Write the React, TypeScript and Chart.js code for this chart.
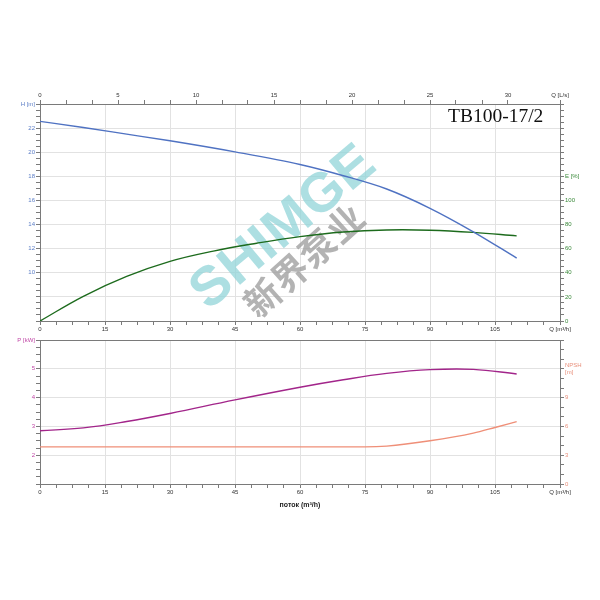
import React, { useEffect, useRef } from 'react';
import { Chart, registerables } from 'chart.js';
Chart.register(...registerables);

// ---- data (Q in m³/h) ----
const flowH = [0, 10, 20, 30, 45, 60, 70, 80, 90, 100, 110];
const headH = [22.56, 22.05, 21.5, 20.95, 20.03, 18.98, 18.05, 16.95, 15.35, 13.4, 11.22];
const flowE = [0, 10, 20, 30, 40, 50, 60, 70, 80, 90, 100, 110];
const effE = [0, 20.5, 37, 49.5, 58, 64.5, 70, 73.8, 75.5, 75.3, 73.5, 70.6];
const flowP = [0, 10, 20, 30, 45, 60, 70, 80, 90, 100, 110];
const powerP = [2.85, 2.95, 3.17, 3.45, 3.92, 4.36, 4.62, 4.84, 4.97, 4.98, 4.82];
const flowN = [0, 15, 30, 45, 60, 75, 80, 90, 100, 105, 110];
const npshN = [3.87, 3.87, 3.87, 3.87, 3.87, 3.87, 3.95, 4.5, 5.3, 5.89, 6.5];

// ---- tick labels ----
const qM3hLabels = [0, 15, 30, 45, 60, 75, 90, 105];
const qLsLabels = [0, 5, 10, 15, 20, 25, 30];
const hLabels = [10, 12, 14, 16, 18, 20, 22];
const eLabels = [0, 20, 40, 60, 80, 100];
const pLabels = [2, 3, 4, 5];
const npshLabels = [0, 3, 6, 9];

const Q_MAX = 120;
const QLS_MAX = Q_MAX / 3.6;
const FONT = '"Liberation Sans", Arial, sans-serif';
const AXIS = '#7a7a7a';
const GRID = '#e2e2e2';

const C_H = '#4f72c2';
const C_E = '#1d6b1d';
const C_P = '#a2258a';
const C_N = '#ef8f78';

function range(min: number, max: number, step: number) {
  const out: number[] = [];
  const n = Math.round((max - min) / step);
  for (let i = 0; i <= n; i++) out.push(min + i * step);
  return out;
}
const near = (a: number, list: number[]) => list.some((v) => Math.abs(v - a) < 1e-6);

function pts(xs: number[], ys: number[]) {
  return xs.map((x, i) => ({ x, y: ys[i] }));
}

function axis(opts: any) {
  const { ticksArr, labels, lastLabel, lastValue, color, gridOn, size, position, min, max } = opts;
  return {
    type: 'linear',
    position,
    min,
    max,
    afterBuildTicks: (s: any) => {
      s.ticks = ticksArr.map((v: number) => ({ value: v }));
    },
    afterFit: (s: any) => {
      if (position === 'left' || position === 'right') s.width = size;
      else s.height = size;
    },
    ticks: {
      autoSkip: false,
      maxRotation: 0,
      minRotation: 0,
      padding: 1,
      color,
      font: { family: FONT, size: 6 },
      callback: (v: number) => {
        if (lastLabel !== undefined && Math.abs(v - lastValue) < 1e-6) return lastLabel;
        return near(v, labels) ? String(v) : '';
      },
    },
    grid: {
      drawOnChartArea: !!gridOn,
      color: (ctx: any) => (gridOn && ctx.tick && gridOn(ctx.tick.value) ? GRID : 'rgba(0,0,0,0)'),
      tickColor: AXIS,
      tickLength: 4,
      lineWidth: 1,
    },
    border: { display: true, color: AXIS, width: 1 },
  };
}

const framePlugin = {
  id: 'frame',
  afterDatasetsDraw(chart: any) {
    const { ctx, chartArea: a } = chart;
    ctx.save();
    ctx.strokeStyle = AXIS;
    ctx.lineWidth = 1;
    ctx.beginPath();
    ctx.moveTo(Math.round(a.left), Math.round(a.top) + 0.5);
    ctx.lineTo(Math.round(a.right), Math.round(a.top) + 0.5);
    ctx.stroke();
    ctx.restore();
  },
};

const watermarkPlugin = {
  id: 'watermark',
  beforeDatasetsDraw(chart: any) {
    const ctx = chart.ctx;
    ctx.save();
    ctx.translate(284, 228);
    ctx.rotate((-40 * Math.PI) / 180);
    ctx.font = `bold 55px ${FONT}`;
    ctx.fillStyle = 'rgba(145,212,216,0.75)';
    ctx.textAlign = 'center';
    ctx.textBaseline = 'middle';
    (ctx as any).letterSpacing = '1px';
    ctx.fillText('SHIMGE', 0, 0);
    ctx.restore();

    ctx.save();
    ctx.translate(304, 260);
    ctx.rotate((-42 * Math.PI) / 180);
    ctx.font = 'bold 36px "Noto Sans CJK SC", sans-serif';
    ctx.fillStyle = 'rgba(160,160,160,0.8)';
    ctx.textAlign = 'center';
    ctx.textBaseline = 'middle';
    (ctx as any).letterSpacing = '1px';
    ctx.fillText('新界泵业', 0, 0);
    ctx.restore();
  },
};

const titlePlugin = {
  id: 'modelTitle',
  afterDraw(chart: any) {
    const ctx = chart.ctx;
    ctx.save();
    ctx.font = '19.5px "Liberation Serif", "Times New Roman", serif';
    ctx.fillStyle = '#111';
    ctx.textAlign = 'left';
    ctx.textBaseline = 'alphabetic';
    ctx.fillText('TB100-17/2', 448, 122);
    ctx.restore();
  },
};

const xTitlePlugin = {
  id: 'xTitle',
  afterDraw(chart: any) {
    const ctx = chart.ctx;
    ctx.save();
    ctx.font = `bold 7px ${FONT}`;
    ctx.fillStyle = '#222';
    ctx.textAlign = 'center';
    ctx.textBaseline = 'middle';
    ctx.fillText('поток (m³/h)', (chart.chartArea.left + chart.chartArea.right) / 2, 505);
    ctx.restore();
  },
};

const qAxisBottom = () =>
  axis({
    position: 'bottom',
    min: 0,
    max: Q_MAX,
    size: 18,
    ticksArr: range(0, Q_MAX, 3.75),
    labels: qM3hLabels,
    lastLabel: 'Q [m³/h]',
    lastValue: Q_MAX,
    color: '#333',
    gridOn: (v: number) => Math.abs(v / 15 - Math.round(v / 15)) < 1e-6,
  });

export default function App() {
  const topRef = useRef<HTMLCanvasElement>(null);
  const botRef = useRef<HTMLCanvasElement>(null);

  useEffect(() => {
    const common = {
      animation: false as const,
      responsive: false,
      maintainAspectRatio: false,
      plugins: { legend: { display: false }, tooltip: { enabled: false } },
      elements: { point: { radius: 0 }, line: { borderWidth: 1.4, tension: 0.4 } },
    };

    const top = new Chart(topRef.current!, {
      type: 'line',
      data: {
        datasets: [
          {
            data: pts(flowH, headH),
            borderColor: C_H,
            xAxisID: 'x',
            yAxisID: 'yH',
            fill: false,
            cubicInterpolationMode: 'monotone',
          },
          { data: pts(flowE, effE), borderColor: C_E, xAxisID: 'x', yAxisID: 'yE', fill: false },
        ],
      },
      options: {
        ...common,
        layout: { padding: { top: 80, bottom: 261, left: 0, right: 0 } },
        scales: {
          x: qAxisBottom(),
          xTop: axis({
            position: 'top',
            min: 0,
            max: QLS_MAX,
            size: 24,
            ticksArr: [...range(0, 30, 5 / 3), QLS_MAX],
            labels: qLsLabels,
            lastLabel: 'Q [L/s]',
            lastValue: QLS_MAX,
            color: '#333',
          }),
          yH: axis({
            position: 'left',
            min: 6,
            max: 24,
            size: 40,
            ticksArr: range(6, 24, 0.5),
            labels: hLabels,
            lastLabel: 'H [m]',
            lastValue: 24,
            color: '#5b7dc6',
            gridOn: (v: number) => Math.abs(v / 2 - Math.round(v / 2)) < 1e-6,
          }),
          yE: axis({
            position: 'right',
            min: 0,
            max: 180,
            size: 40,
            ticksArr: range(0, 180, 5),
            labels: eLabels,
            lastLabel: 'E [%]',
            lastValue: 120,
            color: '#3b8a3b',
          }),
        } as any,
      },
      plugins: [watermarkPlugin, titlePlugin],
    });

    const bot = new Chart(botRef.current!, {
      type: 'line',
      data: {
        datasets: [
          { data: pts(flowP, powerP), borderColor: C_P, xAxisID: 'x', yAxisID: 'yP', fill: false },
          {
            data: pts(flowN, npshN),
            borderColor: C_N,
            xAxisID: 'x',
            yAxisID: 'yN',
            fill: false,
            cubicInterpolationMode: 'monotone',
          },
        ],
      },
      options: {
        ...common,
        layout: { padding: { top: 340, bottom: 98, left: 0, right: 0 } },
        scales: {
          x: qAxisBottom(),
          yP: axis({
            position: 'left',
            min: 1,
            max: 6,
            size: 40,
            ticksArr: range(1, 6, 0.25),
            labels: pLabels,
            lastLabel: 'P [kW]',
            lastValue: 6,
            color: '#c046a6',
            gridOn: (v: number) => Math.abs(v - Math.round(v)) < 1e-6,
          }),
          yN: axis({
            position: 'right',
            min: 0,
            max: 15,
            size: 40,
            ticksArr: range(0, 15, 1),
            labels: npshLabels,
            lastLabel: ['NPSH', '[m]'],
            lastValue: 12,
            color: '#e8907c',
          }),
        } as any,
      },
      plugins: [framePlugin, xTitlePlugin],
    });

    return () => {
      top.destroy();
      bot.destroy();
    };
  }, []);

  return (
    <div style={{ position: 'fixed', left: 0, top: 0, width: 600, height: 600, background: '#fff' }}>
      <canvas ref={topRef} width={600} height={600} style={{ position: 'absolute', left: 0, top: 0 }} />
      <canvas ref={botRef} width={600} height={600} style={{ position: 'absolute', left: 0, top: 0 }} />
    </div>
  );
}
